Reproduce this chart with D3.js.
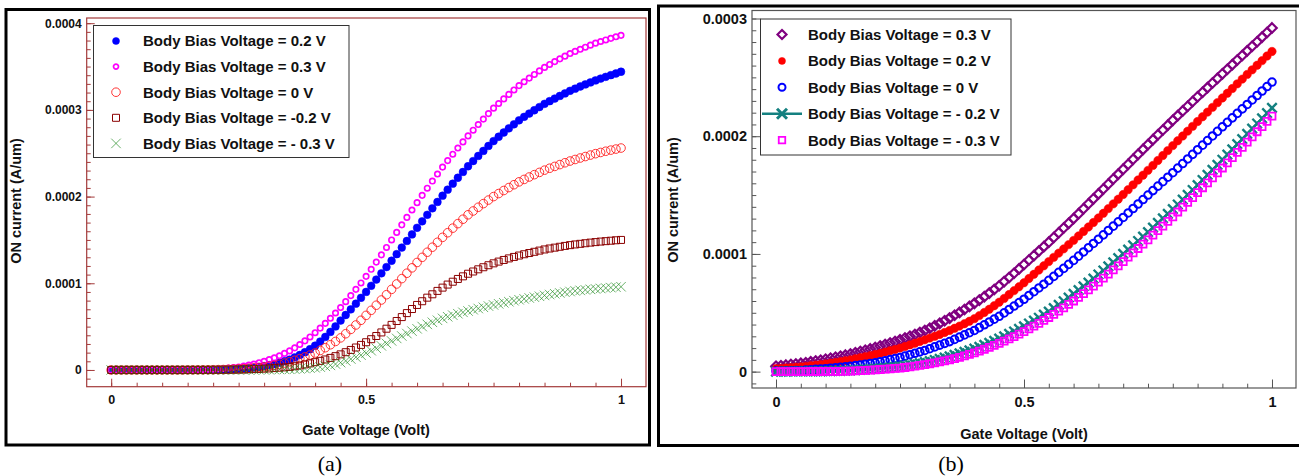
<!DOCTYPE html>
<html><head><meta charset="utf-8">
<script src="https://cdn.jsdelivr.net/npm/d3@7"></script>
<style>body{margin:0;background:#fff}</style>
</head><body><svg id="c" width="1299" height="476"></svg>
<script>
// ---------- DATA (current values in units of 1e-6 A/um) ----------
const UNIT = 1e-6;
const gateStepsPerVolt = 100; // sweep 0 .. 1 V in 0.01 V steps (101 points)

// Panel (a)
const aLabels = ["Body Bias Voltage = 0.2 V","Body Bias Voltage = 0.3 V","Body Bias Voltage = 0 V","Body Bias Voltage = -0.2 V","Body Bias Voltage = - 0.3 V"];
const aVbs02 = [0,0,0,0,0,0,0,0,0,0,0,0,0,0.1,0.1,0.1,0.2,0.2,0.3,0.3,0.4,
0.5,0.6,0.8,1.0,1.2,1.5,2.0,2.6,3.4,4.5,5.6,6.9,8.4,10.1,12.0,14.5,17.3,20.5,24.0,28.0,
32.8,38.1,43.9,50.2,57.0,63.4,69.9,76.5,83.2,90.0,97.1,104.3,111.5,118.7,126.0,133.6,141.2,148.8,156.4,164.0,
171.5,179.0,186.5,193.8,201.0,208.0,214.9,221.7,228.4,235.0,241.0,246.9,252.7,258.4,264.0,269.0,273.9,278.7,283.4,288.0,
292.0,295.8,299.6,303.3,307.0,310.1,313.1,316.1,319.0,322.0,324.5,327.0,329.4,331.7,334.0,336.1,338.1,340.1,342.0,344.0];
const aVbs03 = [0,0,0,0,0,0,0,0,0,0,0,0.1,0.1,0.2,0.2,0.3,0.4,0.5,0.6,0.8,1.0,
1.3,1.7,2.2,2.8,3.5,4.5,5.6,6.9,8.4,10.0,11.9,14.0,16.4,19.1,22.0,25.5,29.4,33.6,38.1,43.0,
48.3,53.8,59.6,65.7,72.0,78.8,85.8,93.0,100.4,108.0,116.1,124.4,132.8,141.3,150.0,158.7,167.4,176.0,184.5,193.0,
201.4,209.7,217.9,226.0,234.0,241.5,248.9,256.0,263.1,270.0,276.6,283.1,289.4,295.7,302.0,307.4,312.7,317.9,323.0,328.0,
332.4,336.7,340.9,345.0,349.0,352.4,355.7,358.9,362.0,365.0,367.5,369.9,372.3,374.7,377.0,378.9,380.7,382.5,384.3,386.0];
const aVbs0 = [0,0,0,0,0,0,0,0,0,0,0,0,0,0,0,0.1,0.1,0.2,0.2,0.3,0.3,
0.4,0.5,0.7,0.9,1.2,1.5,1.9,2.4,2.9,3.5,4.4,5.4,6.6,8.0,9.5,11.2,13.1,15.1,17.2,19.5,
22.5,25.7,29.1,32.9,37.0,41.8,46.8,51.9,57.3,63.0,68.8,74.7,80.7,86.8,93.0,99.2,105.4,111.6,117.8,124.0,
129.9,135.8,141.6,147.3,153.0,158.3,163.6,168.8,173.9,179.0,183.4,187.7,191.9,196.0,200.0,203.5,207.0,210.4,213.7,217.0,
219.8,222.6,225.3,227.9,230.5,232.7,234.8,236.9,239.0,241.0,242.8,244.5,246.2,247.9,249.5,250.9,252.3,253.6,254.8,256.0];
const aVbsM02 = [0,0,0,0,0,0,0,0,0,0,0,0,0,0,0,0,0,0,0,0,0.1,
0.1,0.2,0.3,0.4,0.5,0.6,0.8,1.0,1.2,1.5,1.8,2.2,2.6,3.0,3.5,4.3,5.2,6.4,7.6,9.0,
10.5,12.1,13.9,15.9,18.0,20.5,23.1,25.9,28.9,32.0,35.5,39.2,43.3,47.6,52.0,56.5,61.0,65.6,70.3,75.0,
79.3,83.4,87.3,91.2,95.0,98.5,101.8,105.0,108.0,111.0,113.6,116.1,118.5,120.8,123.0,125.0,126.9,128.7,130.4,132.0,
133.5,134.9,136.3,137.7,139.0,140.1,141.1,142.1,143.1,144.0,144.8,145.5,146.2,146.9,147.5,148.1,148.6,149.1,149.6,150.0];
const aVbsM03 = [0,0,0,0,0,0,0,0,0,0,0,0,0,0,0,0,0,0,0,0,0,0,0,0,0,0.1,0.1,0.2,0.2,0.3,0.3,
0.4,0.5,0.6,0.7,0.8,1.0,1.3,1.7,2.1,2.5,3.3,4.2,5.3,6.8,8.5,10.5,12.6,14.8,17.1,19.5,
22.2,25.0,27.8,30.6,33.5,36.4,39.2,42.0,44.8,47.5,50.1,52.6,55.0,57.3,59.5,61.4,63.2,64.9,66.5,68.0,
69.5,70.9,72.3,73.7,75.0,76.3,77.5,78.7,79.9,81.0,82.0,83.0,84.0,85.0,86.0,87.0,87.9,88.8,89.7,90.5,
91.2,91.8,92.4,93.0,93.5,94.0,94.5,95.0,95.5,96.0];

// Panel (b)
const bLabels = ["Body Bias Voltage = 0.3 V","Body Bias Voltage = 0.2 V","Body Bias Voltage = 0 V","Body Bias Voltage = - 0.2 V","Body Bias Voltage = - 0.3 V"];
const bVbs03 = [4.5,5.0,5.5,6.0,6.5,7.0,7.6,8.3,9.0,9.7,10.5,11.3,12.2,13.1,14.0,15.0,16.0,17.1,18.2,19.3,20.5,
21.7,23.0,24.3,25.6,27.0,28.5,30.0,31.6,33.3,35.0,36.9,38.9,41.0,43.2,45.5,47.9,50.3,52.8,55.4,58.0,
60.8,63.7,66.7,69.8,73.0,76.5,80.0,83.6,87.3,91.0,94.8,98.6,102.4,106.2,110.0,114.0,118.0,122.0,126.0,130.0,
134.2,138.4,142.6,146.8,151.0,155.2,159.4,163.6,167.8,172.0,176.2,180.4,184.6,188.8,193.0,197.1,201.2,205.3,209.4,213.5,
217.5,221.5,225.5,229.5,233.5,237.4,241.3,245.2,249.1,253.0,256.9,260.8,264.7,268.6,272.5,276.4,280.3,284.2,288.1,292.0];
const bVbs02 = [2.5,2.8,3.1,3.4,3.7,4.0,4.5,5.0,5.5,6.0,6.5,7.1,7.8,8.5,9.2,10.0,10.9,11.8,12.7,13.6,14.5,
15.5,16.6,17.7,18.8,20.0,21.3,22.7,24.1,25.5,27.0,28.5,30.0,31.6,33.3,35.0,36.8,38.7,40.7,42.8,45.0,
47.6,50.3,53.0,56.0,59.0,62.2,65.5,68.8,72.1,75.5,79.1,82.7,86.3,89.9,93.5,97.1,100.7,104.3,107.9,111.5,
115.3,119.1,122.9,126.7,130.5,134.5,138.5,142.5,146.5,150.5,154.6,158.7,162.8,166.9,171.0,175.2,179.4,183.6,187.8,192.0,
196.1,200.2,204.3,208.4,212.5,216.5,220.5,224.5,228.5,232.5,236.5,240.5,244.5,248.5,252.5,256.4,260.3,264.2,268.1,272.0];
const bVbs0 = [0.5,0.6,0.7,0.8,0.9,1.0,1.3,1.6,1.9,2.2,2.5,2.9,3.3,3.7,4.1,4.5,5.1,5.7,6.3,6.9,7.5,
8.4,9.3,10.2,11.1,12.0,13.2,14.4,15.6,16.8,18.0,19.5,21.0,22.5,24.0,25.5,27.4,29.3,31.2,33.1,35.0,
37.4,39.8,42.2,44.6,47.0,49.9,52.8,55.7,58.6,61.5,64.7,67.9,71.1,74.3,77.5,80.9,84.3,87.7,91.1,94.5,
98.1,101.7,105.3,108.9,112.5,116.2,119.9,123.6,127.3,131.0,134.8,138.6,142.4,146.2,150.0,153.8,157.6,161.4,165.2,169.0,
172.9,176.8,180.7,184.6,188.5,192.4,196.3,200.2,204.1,208.0,211.8,215.6,219.4,223.2,227.0,230.8,234.6,238.4,242.2,246.0];
const bVbsM02 = [0,0,0,0.1,0.1,0.1,0.2,0.2,0.3,0.3,0.4,0.5,0.6,0.7,0.8,1.0,1.3,1.6,1.9,2.2,2.5,
2.9,3.3,3.7,4.1,4.5,5.2,5.9,6.6,7.3,8.0,8.9,9.9,10.9,11.9,13.0,14.2,15.5,16.8,18.1,19.5,
21.1,22.8,24.5,26.2,28.0,30.0,32.0,34.1,36.3,38.5,40.9,43.3,45.8,48.4,51.0,53.9,56.8,59.8,62.9,66.0,
69.2,72.4,75.7,79.1,82.5,85.9,89.4,92.9,96.4,100.0,103.6,107.3,111.0,114.7,118.5,122.4,126.3,130.2,134.1,138.0,
142.0,146.1,150.2,154.3,158.5,162.8,167.1,171.4,175.7,180.0,184.4,188.8,193.2,197.6,202.0,206.4,210.8,215.2,219.6,224.0];
const bVbsM03 = [0,0,0,0,0,0,0,0.1,0.1,0.1,0.2,0.2,0.3,0.3,0.4,0.5,0.7,0.9,1.1,1.3,1.5,
1.8,2.1,2.4,2.7,3.0,3.5,4.0,4.6,5.3,6.0,6.7,7.5,8.3,9.1,10.0,11.1,12.2,13.4,14.7,16.0,
17.5,19.0,20.6,22.3,24.0,25.9,27.8,29.8,31.9,34.0,36.3,38.6,41.0,43.5,46.0,48.7,51.4,54.2,57.1,60.0,
63.1,66.2,69.4,72.7,76.0,79.4,82.9,86.4,89.9,93.5,97.2,100.9,104.6,108.3,112.0,115.9,119.8,123.7,127.6,131.5,
135.6,139.7,143.8,147.9,152.0,156.2,160.4,164.6,168.8,173.0,177.4,181.8,186.2,190.6,195.0,199.4,203.8,208.2,212.6,217.0];

const xTickVals = [0, 0.5, 1];
const xTickText = ["0", "0.5", "1"];
const aYTickVals = [0, 0.0001, 0.0002, 0.0003, 0.0004];
const aYTickText = ["0", "0.0001", "0.0002", "0.0003", "0.0004"];
const bYTickVals = [0, 0.0001, 0.0002, 0.0003];
const bYTickText = ["0", "0.0001", "0.0002", "0.0003"];

// ---------- DRAWING ----------
const SANS = "'Liberation Sans', Arial, sans-serif";
const SERIF = "'Liberation Serif', 'Times New Roman', serif";
const svg = d3.select("#c");

function markerPath(type, s) {
  const h = s / 2;
  if (type === "circle") return `M${-h},0a${h},${h} 0 1,0 ${s},0a${h},${h} 0 1,0 ${-s},0Z`;
  if (type === "square") return `M${-h},${-h}h${s}v${s}h${-s}Z`;
  if (type === "diamond") return `M0,${-h}L${h},0L0,${h}L${-h},0Z`;
  if (type === "x") return `M${-h},${-h}L${h},${h}M${-h},${h}L${h},${-h}`;
  return "";
}

function panel(cfg) {
  const g = svg.append("g");
  g.append("rect").attr("x", cfg.frame[0]).attr("y", cfg.frame[1]).attr("width", cfg.frame[2]).attr("height", cfg.frame[3])
    .attr("fill", "none").attr("stroke", "#000").attr("stroke-width", 3);

  const x = d3.scaleLinear().domain(cfg.xDomain).range([cfg.left, cfg.right]);
  const y = d3.scaleLinear().domain(cfg.yDomain).range([cfg.bottom, cfg.top]);

  // minor ticks
  const xMinor = d3.range(0, 21).map(i => i * 0.05);
  const yMinor = d3.range(-2, cfg.yMinorMax + 1).map(i => i * 0.00001).filter(v => v >= cfg.yDomain[0] && v <= cfg.yDomain[1]);
  const gxm = g.append("g").attr("transform", `translate(0,${cfg.bottom})`)
    .call(d3.axisBottom(x).tickValues(xMinor).tickSize(-cfg.minorLen).tickFormat(""));
  const gym = g.append("g").attr("transform", `translate(${cfg.left},0)`)
    .call(d3.axisLeft(y).tickValues(yMinor).tickSize(-cfg.minorLen).tickFormat(""));
  // major ticks
  const gx = g.append("g").attr("transform", `translate(0,${cfg.bottom})`)
    .call(d3.axisBottom(x).tickValues(xTickVals).tickSize(-cfg.majorLen).tickPadding(cfg.xPad).tickFormat((d, i) => xTickText[i]));
  const gy = g.append("g").attr("transform", `translate(${cfg.left},0)`)
    .call(d3.axisLeft(y).tickValues(cfg.yTicks).tickSize(-cfg.majorLen).tickPadding(cfg.yPad).tickFormat((d, i) => cfg.yTickText[i]));
  [gxm, gym, gx, gy].forEach(a => {
    a.select(".domain").remove();
    a.selectAll("line").attr("stroke", cfg.axisColor).attr("stroke-width", 1);
    a.selectAll("text").attr("fill", "#111").attr("font-weight", "bold").style("font-family", SANS);
  });
  gx.selectAll("text").attr("font-size", cfg.xFont);
  gy.selectAll("text").attr("font-size", cfg.yFont);

  g.append("rect").attr("x", cfg.left).attr("y", cfg.top).attr("width", cfg.right - cfg.left).attr("height", cfg.bottom - cfg.top)
    .attr("fill", "none").attr("stroke", cfg.axisColor).attr("stroke-width", 1.2);

  // series
  cfg.series.forEach(s => {
    const pts = s.values.map((v, i) => [x(i / gateStepsPerVolt), y(v * UNIT)]);
    if (s.line) {
      g.append("path").attr("d", d3.line()(pts)).attr("fill", "none").attr("stroke", s.color).attr("stroke-width", s.line);
    }
    g.append("g").selectAll("path").data(pts).join("path")
      .attr("transform", d => `translate(${d[0]},${d[1]})`)
      .attr("d", markerPath(s.shape, s.size))
      .attr("fill", s.fill ? s.color : "none")
      .attr("stroke", s.color).attr("stroke-width", s.sw)
      .attr("opacity", s.opacity || 1);
  });

  // legend
  const L = cfg.legend;
  g.append("rect").attr("x", L.x).attr("y", L.y).attr("width", L.w).attr("height", L.h)
    .attr("fill", "#fff").attr("stroke", "#333").attr("stroke-width", 1);
  cfg.series.forEach((s, i) => {
    const yy = L.row0 + i * L.dy;
    if (s.line) {
      g.append("line").attr("x1", L.mx - 20).attr("x2", L.mx + 20).attr("y1", yy).attr("y2", yy)
        .attr("stroke", s.color).attr("stroke-width", 2.5);
    }
    g.append("path").attr("transform", `translate(${L.mx},${yy})`)
      .attr("d", markerPath(s.shape, s.legendSize || s.size))
      .attr("fill", s.fill ? s.color : "none").attr("stroke", s.color).attr("stroke-width", s.legendSw || s.sw)
      .attr("opacity", s.opacity || 1);
    g.append("text").attr("x", L.tx).attr("y", yy).attr("dy", "0.36em").style("font-family", SANS)
      .attr("font-size", L.font).attr("font-weight", "bold").attr("fill", "#111").text(cfg.labels[i]);
  });

  // axis titles
  g.append("text").attr("x", (x(0) + x(1)) / 2).attr("y", cfg.xTitleY).attr("text-anchor", "middle").style("font-family", SANS)
    .attr("font-size", cfg.titleFont).attr("font-weight", "bold").attr("fill", "#111").text("Gate Voltage (Volt)");
  g.append("text").attr("transform", `translate(${cfg.yTitleX},${cfg.yTitleY}) rotate(-90)`).attr("text-anchor", "middle").style("font-family", SANS)
    .attr("font-size", cfg.titleFont).attr("font-weight", "bold").attr("fill", "#111").text("ON current (A/um)");
  // caption
  g.append("text").attr("x", cfg.capX).attr("y", 471).attr("text-anchor", "middle")
    .attr("font-size", 22).style("font-family", SERIF).attr("fill", "#000").text(cfg.caption);
}

panel({
  frame: [6, 9.5, 643.5, 435.5],
  left: 86.7, right: 646, top: 18, bottom: 386.7,
  xDomain: [-0.048, 1.049], yDomain: [-0.0000193, 0.000406],
  yTicks: aYTickVals, yTickText: aYTickText, yMinorMax: 40,
  axisColor: "#a33a3a", majorLen: 8, minorLen: 4, xPad: 8, yPad: 5, xFont: 12.5, yFont: 12,
  titleFont: 14.5, xTitleY: 435, yTitleX: 21, yTitleY: 201,
  caption: "(a)", capX: 330,
  labels: aLabels,
  legend: { x: 93.5, y: 25.5, w: 255.5, h: 132, row0: 41, dy: 25.6, mx: 116, tx: 143, font: 15 },
  series: [
    { values: aVbs02, color: "#0000ff", shape: "circle", size: 7.8, fill: true, sw: 0.5, legendSize: 7 },
    { values: aVbs03, color: "#ff00ff", shape: "circle", size: 5.4, fill: false, sw: 1.7, legendSize: 5 },
    { values: aVbs0, color: "#ff2020", shape: "circle", size: 8.6, fill: false, sw: 0.9 },
    { values: aVbsM02, color: "#8b0000", shape: "square", size: 7, fill: false, sw: 1 },
    { values: aVbsM03, color: "#228b22", shape: "x", size: 9.5, fill: false, sw: 0.9, opacity: 0.75 }
  ]
});

panel({
  frame: [658.5, 6, 643, 439.5],
  left: 752, right: 1296, top: 10.5, bottom: 388,
  xDomain: [-0.0484, 1.0484], yDomain: [-0.0000139, 0.0003068],
  yTicks: bYTickVals, yTickText: bYTickText, yMinorMax: 30,
  axisColor: "#555", majorLen: 8.5, minorLen: 4.3, xPad: 9, yPad: 5, xFont: 14.5, yFont: 14.5,
  titleFont: 14.5, xTitleY: 439, yTitleX: 678, yTitleY: 200,
  caption: "(b)", capX: 951,
  labels: bLabels,
  legend: { x: 760.5, y: 19, w: 250.5, h: 136, row0: 34.5, dy: 26.4, mx: 782, tx: 808, font: 15 },
  series: [
    { values: bVbs03, color: "#800080", shape: "diamond", size: 9.5, fill: false, sw: 2.2, legendSize: 9 },
    { values: bVbs02, color: "#ff0000", shape: "circle", size: 8.4, fill: true, sw: 0.5, legendSize: 7 },
    { values: bVbs0, color: "#0000ff", shape: "circle", size: 7.6, fill: false, sw: 2, legendSize: 7 },
    { values: bVbsM02, color: "#148080", shape: "x", size: 9.5, fill: false, sw: 2.4, line: 2, legendSize: 10, legendSw: 3 },
    { values: bVbsM03, color: "#ff00ff", shape: "square", size: 7, fill: false, sw: 1.8, legendSize: 6.5 }
  ]
});
</script></body></html>
